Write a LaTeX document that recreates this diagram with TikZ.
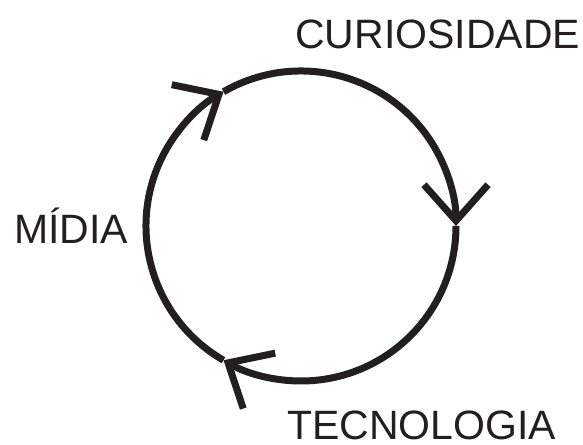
\documentclass[tikz,border=0pt]{standalone}
\usepackage{fontspec}
\setmainfont{Liberation Sans}
\usepackage{xcolor}
\usepackage{tikz}
\usetikzlibrary{arrows.meta,calc}
\definecolor{ink}{HTML}{231F20}

\begin{document}
\begin{tikzpicture}[x=1pt,y=1pt,>={Straight Barb[length=36pt,width=64pt]},
  every node/.style={font=\fontsize{41}{41}\selectfont,text=ink,inner sep=0pt}]
  \useasboundingbox (0,0) rectangle (583,444);
  % cycle
  \coordinate (O) at (301,218);
  \coordinate (P1) at ($(O)+(120:155)$);
  \coordinate (P2) at ($(O)+(0:155)$);
  \coordinate (P3) at ($(O)+(240:155)$);
  \draw[->,ink,line width=7pt] (P1) arc[start angle=120,end angle=0,radius=155];
  \draw[->,ink,line width=7pt] (P2) arc[start angle=0,end angle=-120,radius=155];
  \draw[->,ink,line width=7pt] (P3) arc[start angle=240,end angle=120,radius=155];
  % labels
  \node[anchor=base west] (cur) at (295,395.7) {CURIOSIDADE};
  \node[anchor=base west] (mid) at (14,200.7) {MÍDIA};
  \node[anchor=base west] (tec) at (287,5) {TECNOLOGIA};
\end{tikzpicture}
\end{document}
